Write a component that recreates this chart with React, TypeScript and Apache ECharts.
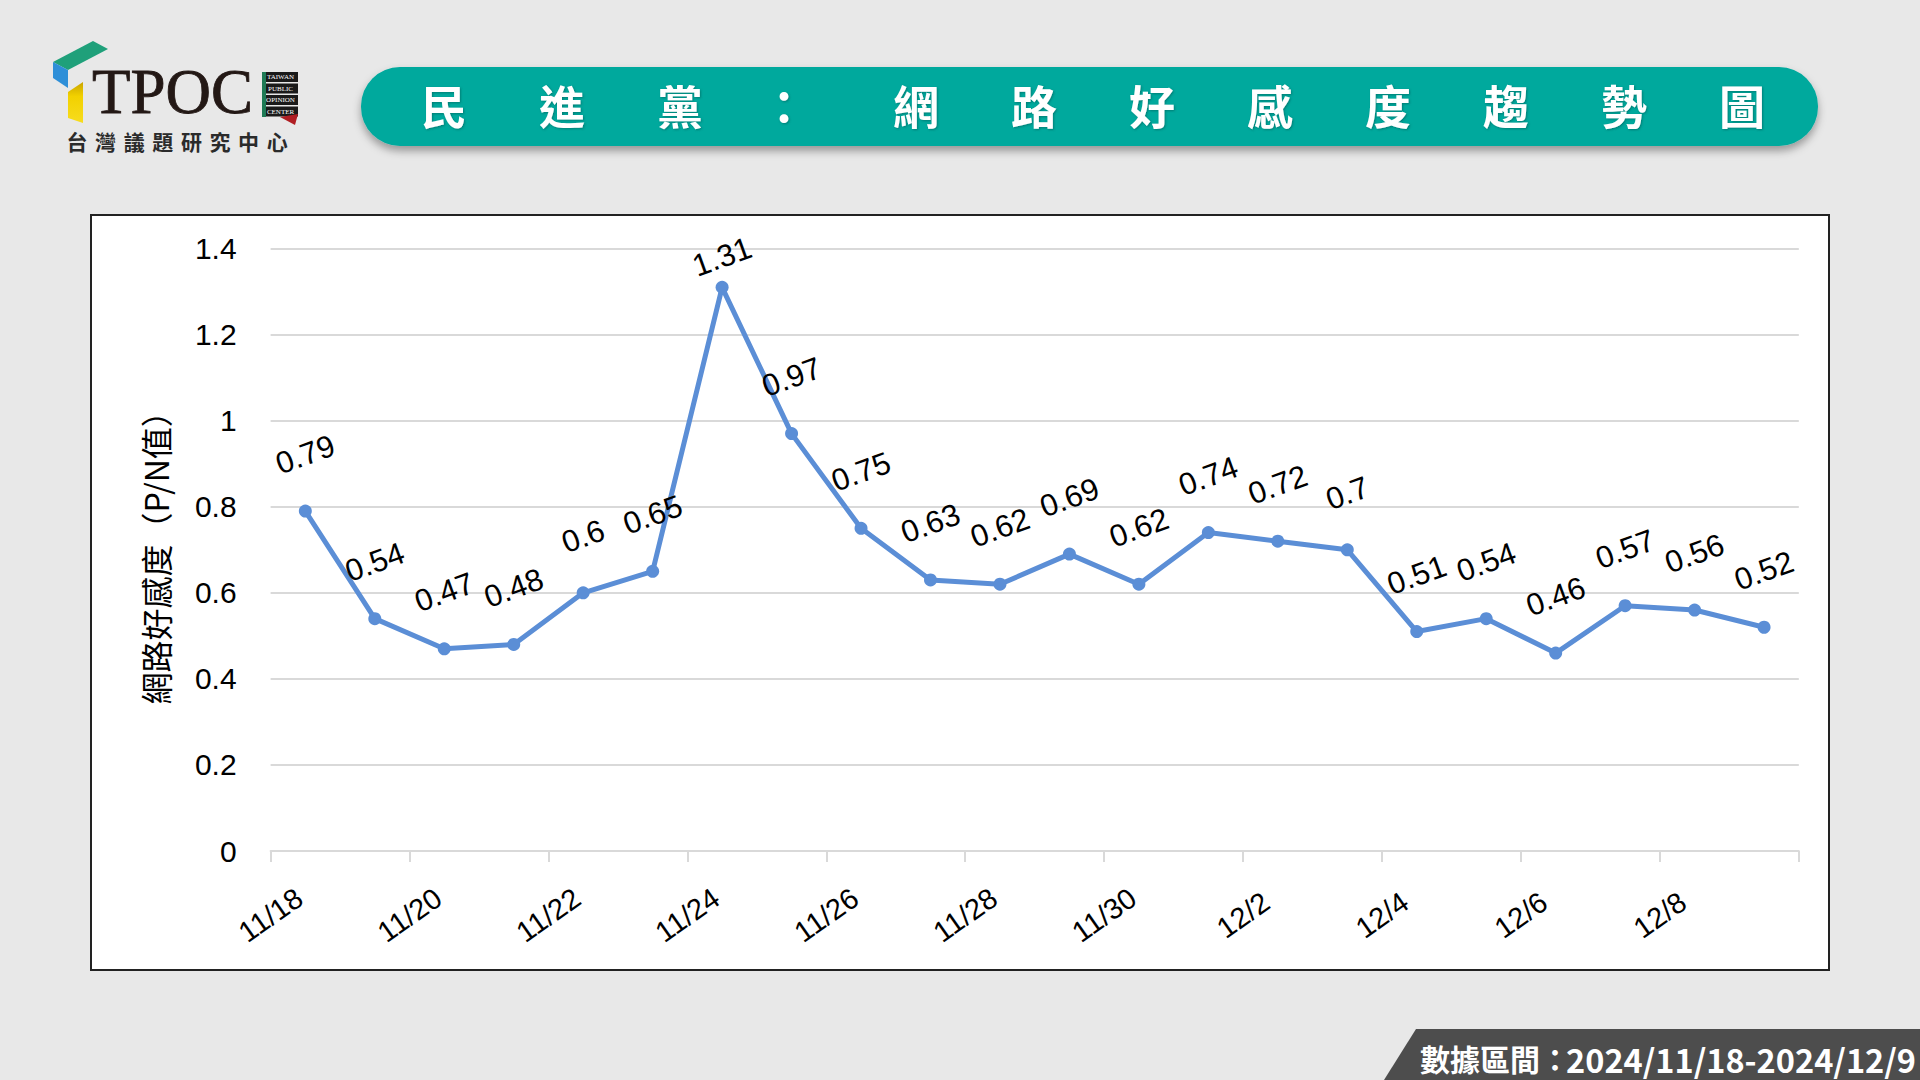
import React, { useEffect, useRef } from 'react';
import * as echarts from 'echarts';

const dates = [
  '11/18', '11/19', '11/20', '11/21', '11/22', '11/23', '11/24', '11/25', '11/26', '11/27', '11/28',
  '11/29', '11/30', '12/1', '12/2', '12/3', '12/4', '12/5', '12/6', '12/7', '12/8', '12/9',
];
const values = [
  0.79, 0.54, 0.47, 0.48, 0.6, 0.65, 1.31, 0.97, 0.75, 0.63, 0.62,
  0.69, 0.62, 0.74, 0.72, 0.7, 0.51, 0.54, 0.46, 0.57, 0.56, 0.52,
];
const yMin = 0;
const yMax = 1.4;
const yStep = 0.2;
const titleChars = ['民', '進', '黨', '：', '網', '路', '好', '感', '度', '趨', '勢', '圖'];
const subtitleChars = ['台', '灣', '議', '題', '研', '究', '中', '心'];
const badgeLines = ['TAIWAN', 'PUBLIC', 'OPINION', 'CENTER'];
const footerLabel = '數據區間：';
const footerRange = '2024/11/18-2024/12/9';
const yAxisName = '網路好感度（P/N值）';

const LINE_COLOR = '#5B8ED6';
const CJK = '"Noto Sans CJK TC", "Noto Sans CJK SC", sans-serif';
const LATIN = '"Liberation Sans", Arial, Helvetica, sans-serif';

export default function App() {
  const ref = useRef<HTMLDivElement>(null);

  useEffect(() => {
    const chart = echarts.init(ref.current as HTMLDivElement, null, { renderer: 'svg' });

    const peakIdx = values.indexOf(Math.max(...values));
    const seriesData = values.map((v, i) =>
      i === peakIdx ? { value: v, label: { distance: 24 } } : v
    );
    const boundaryLabels = [...dates, ''];

    const titleX = (i: number) => (i === 3 ? 784 : 444 + 118 * i);

    const graphic: any[] = [
      {
        type: 'rect',
        z: -10,
        silent: true,
        shape: { x: 91, y: 215, width: 1738, height: 755 },
        style: { fill: '#FFFFFF', stroke: '#222222', lineWidth: 2 },
      },
      // title pill
      {
        type: 'rect',
        z: 5,
        shape: { x: 361, y: 67, width: 1457, height: 79, r: 39 },
        style: {
          fill: '#00A99D',
          shadowBlur: 8,
          shadowOffsetY: 5,
          shadowColor: 'rgba(0,0,0,0.35)',
        },
      },
      ...titleChars.map((c, i) => ({
        type: 'text',
        z: 6,
        x: titleX(i),
        y: 104,
        style: {
          text: c,
          fill: '#FFFFFF',
          font: `bold 46px ${CJK}`,
          align: 'center',
          verticalAlign: 'middle',
          textShadowColor: 'rgba(0,80,75,0.5)',
          textShadowBlur: 2,
          textShadowOffsetX: 1,
          textShadowOffsetY: 1,
        },
      })),
      // logo icon
      {
        type: 'polygon',
        z: 5,
        shape: { points: [[53, 62], [93, 41], [108, 49], [68, 70]] },
        style: { fill: '#1FA07A' },
      },
      {
        type: 'polygon',
        z: 5,
        shape: { points: [[53, 62], [68, 70], [68, 88], [53, 78]] },
        style: { fill: '#2E8FD8' },
      },
      {
        type: 'polygon',
        z: 5,
        shape: { points: [[68, 92], [83, 82], [83, 123], [68, 118]] },
        style: {
          fill: new echarts.graphic.LinearGradient(0, 0, 0, 1, [
            { offset: 0, color: '#C9A400' },
            { offset: 0.35, color: '#F2D100' },
            { offset: 1, color: '#F7DC1E' },
          ]),
        },
      },
      {
        type: 'text',
        z: 5,
        x: 92,
        y: 92,
        style: {
          text: 'TPOC',
          fill: '#231815',
          font: '63px "Liberation Serif", "DejaVu Serif", serif',
          align: 'left',
          verticalAlign: 'middle',
          stroke: '#231815',
          lineWidth: 0.8,
        },
      },
      {
        type: 'polygon',
        z: 5,
        shape: { points: [[262, 72], [266, 72], [266, 117], [262, 117]] },
        style: { fill: '#1E7A55' },
      },
      ...badgeLines.map((t, i) => ({
        type: 'group',
        z: 5,
        children: [
          {
            type: 'rect',
            shape: { x: 263, y: 72 + i * 11.5, width: 35, height: 10 },
            style: { fill: '#1A1A1A' },
          },
          {
            type: 'text',
            x: 280.5,
            y: 77 + i * 11.5,
            style: {
              text: t,
              fill: '#FFFFFF',
              font: '7px "Liberation Serif", serif',
              align: 'center',
              verticalAlign: 'middle',
            },
          },
        ],
      })),
      {
        type: 'polygon',
        z: 5,
        shape: { points: [[280, 117], [298, 114], [295, 125]] },
        style: { fill: '#B01E23' },
      },
      ...subtitleChars.map((c, i) => ({
        type: 'text',
        z: 5,
        x: 77 + 28.6 * i,
        y: 141,
        style: {
          text: c,
          fill: '#2B2B2B',
          font: `bold 21px ${CJK}`,
          align: 'center',
          verticalAlign: 'middle',
        },
      })),
      // footer
      {
        type: 'polygon',
        z: 5,
        shape: { points: [[1416, 1029], [1920, 1029], [1920, 1080], [1384, 1080]] },
        style: { fill: '#4D4D4D' },
      },
      {
        type: 'text',
        z: 6,
        x: 1420,
        y: 1058,
        style: {
          text: footerLabel,
          fill: '#FFFFFF',
          font: `bold 30px ${CJK}`,
          align: 'left',
          verticalAlign: 'middle',
        },
      },
      {
        type: 'text',
        z: 6,
        x: 1916,
        y: 1058,
        style: {
          text: footerRange,
          fill: '#FFFFFF',
          font: `bold 32.5px ${CJK}`,
          align: 'right',
          verticalAlign: 'middle',
        },
      },
    ];

    const option: any = {
      animation: false,
      backgroundColor: '#E8E8E8',
      graphic,
      grid: { left: 270.6, right: 121.2, top: 248.6, bottom: 229, containLabel: false },
      xAxis: [
        {
          type: 'category',
          data: dates,
          boundaryGap: true,
          axisLine: { show: true, lineStyle: { color: '#D9D9D9', width: 2 } },
          axisTick: { show: true, interval: 1, length: 11, lineStyle: { color: '#D9D9D9', width: 2 } },
          axisLabel: { show: false },
          splitLine: { show: false },
        },
        {
          type: 'category',
          data: boundaryLabels,
          boundaryGap: false,
          position: 'bottom',
          axisLine: { show: false },
          axisTick: { show: false },
          splitLine: { show: false },
          axisLabel: {
            show: true,
            interval: 1,
            rotate: 35,
            align: 'center',
            verticalAlign: 'middle',
            margin: 64,
            fontSize: 29,
            color: '#000000',
            fontFamily: LATIN,
          },
        },
      ],
      yAxis: {
        type: 'value',
        min: yMin,
        max: yMax,
        interval: yStep,
        axisLine: { show: false },
        axisTick: { show: false },
        splitLine: { show: true, lineStyle: { color: '#D9D9D9', width: 2 } },
        axisLabel: { fontSize: 30, color: '#000000', fontFamily: LATIN, margin: 34 },
        name: yAxisName,
        nameLocation: 'middle',
        nameRotate: 90,
        nameGap: 100,
        nameTextStyle: { fontSize: 32, color: '#000000', fontFamily: CJK },
      },
      series: [
        {
          type: 'line',
          xAxisIndex: 0,
          data: seriesData,
          symbol: 'circle',
          symbolSize: 13,
          lineStyle: { color: LINE_COLOR, width: 5 },
          itemStyle: { color: LINE_COLOR },
          label: {
            show: true,
            position: 'top',
            distance: 50,
            rotate: 20,
            align: 'center',
            verticalAlign: 'middle',
            fontSize: 31,
            color: '#000000',
            fontFamily: LATIN,
          },
        },
      ],
    };

    chart.setOption(option);
    return () => chart.dispose();
  }, []);

  return (
    <div
      ref={ref}
      style={{ position: 'fixed', left: 0, top: 0, width: 1920, height: 1080 }}
    />
  );
}
